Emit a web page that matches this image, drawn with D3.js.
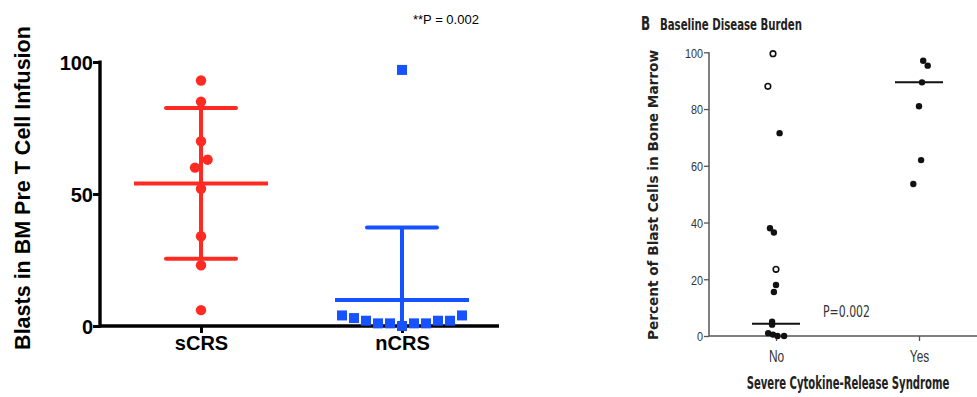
<!DOCTYPE html>
<html>
<head>
<meta charset="utf-8">
<script src="https://cdn.jsdelivr.net/npm/d3@7"></script>
<style>
  body { margin: 0; background: #fff; }
  svg { display: block; }
</style>
</head>
<body>
<svg width="977" height="397"></svg>
<script>
// ---------- panel A data (left, GraphPad style)
const groupsA   = ["sCRS", "nCRS"];
const sCRS      = [93, 85, 70, 63, 60, 52, 34, 23, 6];
const sCRSslot  = [0, 0, 0, 0.55, -0.5, 0, 0, 0, 0];      // horizontal scatter slots
const nCRS      = [97, 4, 3, 2, 1, 1, 0, 1, 1, 2, 2, 4];
const nCRSslot  = [0, -5, -4, -3, -2, -1, 0, 1, 2, 3, 4, 5];
const ticksA    = [0, 50, 100];
const titleA    = "Blasts in BM Pre T Cell Infusion";
const pLabelA   = "**P = 0.002";

// ---------- panel B data (right, NEJM style)
const groupsB      = ["No", "Yes"];
const noFilled     = [71.5, 38, 36.5, 18, 15.5, 5, 4, 1, 0.5, 0, 0];
const noFilledSlot = [1.2, -2, -0.7, 0, -0.7, -1.3, -1.3, -2.6, -1, 0.5, 2.7];
const noOpen       = [99.5, 88, 23.5];
const noOpenSlot   = [-1, -2.7, 0];
const yesFilled    = [97, 95.3, 89.4, 81, 62, 53.6];
const yesFilledSlot= [1.4, 2.9, 1, 0, 0.7, -1.9];
const mediansB     = [4.3, 89.4];
const ticksB       = [0, 20, 40, 60, 80, 100];
const titleB       = "Baseline Disease Burden";
const yTitleB      = "Percent of Blast Cells in Bone Marrow";
const xTitleB      = "Severe Cytokine-Release Syndrome";
const pLabelB      = "P=0.002";

const red  = "#ff2b22";
const blue = "#1652ff";

const svg = d3.select("svg");

// squeeze text to a given share of its natural width (NEJM figures use a condensed face)
function condense(sel, k) {
  sel.each(function () {
    const len = this.getComputedTextLength();
    d3.select(this).attr("textLength", len * k).attr("lengthAdjust", "spacingAndGlyphs");
  });
}

////////////////////////////
// -------- PANEL A
////////////////////////////
const A = svg.append("g").attr("class", "panelA")
              .style("font-family", "'Liberation Sans', Arial, sans-serif");

const xA = d3.scalePoint().domain(groupsA).range([201, 402]);
const yA = d3.scaleLinear().domain([0, 100]).range([326, 62]);
const slotA = 12;

// axes lines
A.append("line").attr("x1", 100).attr("x2", 100).attr("y1", yA(100) - 1.5).attr("y2", yA(0) + 1.5)
  .attr("stroke", "#000").attr("stroke-width", 3.4);
A.append("line").attr("x1", 100).attr("x2", 499).attr("y1", yA(0)).attr("y2", yA(0))
  .attr("stroke", "#000").attr("stroke-width", 3.4);

const yAxisA = A.append("g").attr("transform", "translate(100,0)")
  .call(d3.axisLeft(yA).tickValues(ticksA).tickSize(7).tickSizeOuter(0));
yAxisA.select(".domain").remove();
yAxisA.selectAll(".tick line").attr("stroke", "#000").attr("stroke-width", 3);
yAxisA.selectAll(".tick text").attr("x", -7).attr("dy", "0.36em")
  .style("font-size", "20px").style("font-weight", "bold").style("font-family", "inherit").attr("fill", "#000");

const xAxisA = A.append("g").attr("transform", `translate(0,${yA(0)})`)
  .call(d3.axisBottom(xA).tickSize(7).tickSizeOuter(0));
xAxisA.select(".domain").remove();
xAxisA.selectAll(".tick line").attr("stroke", "#000").attr("stroke-width", 3);
xAxisA.selectAll(".tick text").attr("y", 10).attr("dy", "0.71em")
  .style("font-size", "20px").style("font-weight", "bold").style("font-family", "inherit").attr("fill", "#000");

// y title
A.append("text").attr("transform", "translate(30,188) rotate(-90)")
  .attr("text-anchor", "middle")
  .style("font-size", "21.5px").style("font-weight", "bold").text(titleA);

// p value
A.append("text").attr("x", 413).attr("y", 24).style("font-size", "13px").text(pLabelA);

// mean +/- SD
function meanSD(g, name, vals, color) {
  const m = d3.mean(vals), sd = d3.deviation(vals);
  const cx = xA(name);
  const hi = m + sd, lo = m - sd;
  const bottom = lo > 0 ? yA(lo) : yA(0) + 4;
  g.append("line").attr("x1", cx).attr("x2", cx).attr("y1", yA(hi)).attr("y2", bottom)
    .attr("stroke", color).attr("stroke-width", 4);
  g.append("line").attr("x1", cx - 67).attr("x2", cx + 67).attr("y1", yA(m)).attr("y2", yA(m))
    .attr("stroke", color).attr("stroke-width", 4);
  g.append("line").attr("x1", cx - 35).attr("x2", cx + 35).attr("y1", yA(hi)).attr("y2", yA(hi))
    .attr("stroke", color).attr("stroke-width", 4).attr("stroke-linecap", "round");
  if (lo > 0) {
    g.append("line").attr("x1", cx - 35).attr("x2", cx + 35).attr("y1", yA(lo)).attr("y2", yA(lo))
      .attr("stroke", color).attr("stroke-width", 4).attr("stroke-linecap", "round");
  }
}
meanSD(A, "sCRS", sCRS, red);
meanSD(A, "nCRS", nCRS, blue);

A.append("g").selectAll("circle")
  .data(sCRS.map((v, i) => ({ v, s: sCRSslot[i] })))
  .join("circle")
    .attr("cx", d => xA("sCRS") + d.s * slotA)
    .attr("cy", d => yA(d.v))
    .attr("r", 5.2)
    .attr("fill", red);

A.append("g").selectAll("rect")
  .data(nCRS.map((v, i) => ({ v, s: nCRSslot[i] })))
  .join("rect")
    .attr("x", d => xA("nCRS") + d.s * slotA - 5)
    .attr("y", d => yA(d.v) - 5)
    .attr("width", 10).attr("height", 10)
    .attr("fill", blue);

////////////////////////////
// -------- PANEL B
////////////////////////////
const B = svg.append("g").attr("class", "panelB")
              .style("font-family", "'DejaVu Sans Condensed', 'DejaVu Sans', sans-serif")
              .style("font-stretch", "condensed")
              .attr("fill", "#222");

const xB = d3.scalePoint().domain(groupsB).range([776, 919]);
const yB = d3.scaleLinear().domain([0, 100]).range([336, 52.3]);
const slotB = 3;
const axisGray = "#555";

B.append("line").attr("x1", 709).attr("x2", 709).attr("y1", yB(100)).attr("y2", yB(0))
  .attr("stroke", axisGray).attr("stroke-width", 1.5);
B.append("line").attr("x1", 709).attr("x2", 977).attr("y1", yB(0)).attr("y2", yB(0))
  .attr("stroke", axisGray).attr("stroke-width", 1.5);

const yAxisB = B.append("g").attr("transform", "translate(709,0)")
  .call(d3.axisLeft(yB).tickValues(ticksB).tickSize(5).tickSizeOuter(0));
yAxisB.select(".domain").remove();
yAxisB.selectAll(".tick line").attr("stroke", axisGray).attr("stroke-width", 1.3);
yAxisB.selectAll(".tick text").attr("x", -6).attr("dy", "0.36em")
  .style("font-size", "13.5px").style("font-family", "inherit").attr("fill", "#333")
  .call(condense, 0.8);

const xAxisB = B.append("g").attr("transform", `translate(0,${yB(0)})`)
  .call(d3.axisBottom(xB).tickSize(5).tickSizeOuter(0));
xAxisB.select(".domain").remove();
xAxisB.selectAll(".tick line").attr("stroke", axisGray).attr("stroke-width", 1.3);
xAxisB.selectAll(".tick text").attr("y", 14).attr("dy", "0.71em")
  .style("font-size", "16.5px").style("font-family", "inherit").attr("fill", "#333")
  .call(condense, 0.72);

// titles
B.append("text").attr("x", 641).attr("y", 30)
  .style("font-size", "19px").style("font-weight", "bold").text("B")
  .call(condense, 0.7);
B.append("text").attr("x", 660).attr("y", 30)
  .style("font-size", "16px").style("font-weight", "bold").text(titleB)
  .call(t => t.attr("textLength", 142).attr("lengthAdjust", "spacingAndGlyphs"));
B.append("text").attr("transform", "translate(658,195) rotate(-90)")
  .attr("text-anchor", "middle")
  .style("font-size", "14.5px").style("font-weight", "bold").text(yTitleB)
  .call(t => t.attr("textLength", 290).attr("lengthAdjust", "spacingAndGlyphs"));

// x title: scaled horizontally so its box stays inside the page
const xTitle = B.append("text").attr("text-anchor", "middle")
  .style("font-size", "17px").style("font-weight", "bold").text(xTitleB);
const xTitleW = xTitle.node().getComputedTextLength();
xTitle.attr("transform", `translate(848,389) scale(${203 / xTitleW},1)`);

B.append("text").attr("x", 823).attr("y", 317)
  .style("font-size", "16px").attr("fill", "#333").text(pLabelB)
  .call(t => t.attr("textLength", 47).attr("lengthAdjust", "spacingAndGlyphs"));

// medians
B.append("g").selectAll("line")
  .data(groupsB.map((g, i) => ({ g, m: mediansB[i] })))
  .join("line")
    .attr("x1", d => xB(d.g) - 24).attr("x2", d => xB(d.g) + 24)
    .attr("y1", d => yB(d.m)).attr("y2", d => yB(d.m))
    .attr("stroke", "#111").attr("stroke-width", 2);

const filledB = noFilled.map((v, i) => ({ g: "No", v, s: noFilledSlot[i] }))
  .concat(yesFilled.map((v, i) => ({ g: "Yes", v, s: yesFilledSlot[i] })));

B.append("g").selectAll("circle")
  .data(filledB)
  .join("circle")
    .attr("cx", d => xB(d.g) + d.s * slotB)
    .attr("cy", d => yB(d.v))
    .attr("r", 3.2)
    .attr("fill", "#111");

B.append("g").selectAll("circle")
  .data(noOpen.map((v, i) => ({ v, s: noOpenSlot[i] })))
  .join("circle")
    .attr("cx", d => xB("No") + d.s * slotB)
    .attr("cy", d => yB(d.v))
    .attr("r", 2.8)
    .attr("fill", "#fff")
    .attr("stroke", "#111")
    .attr("stroke-width", 1.6);
</script>
</body>
</html>
